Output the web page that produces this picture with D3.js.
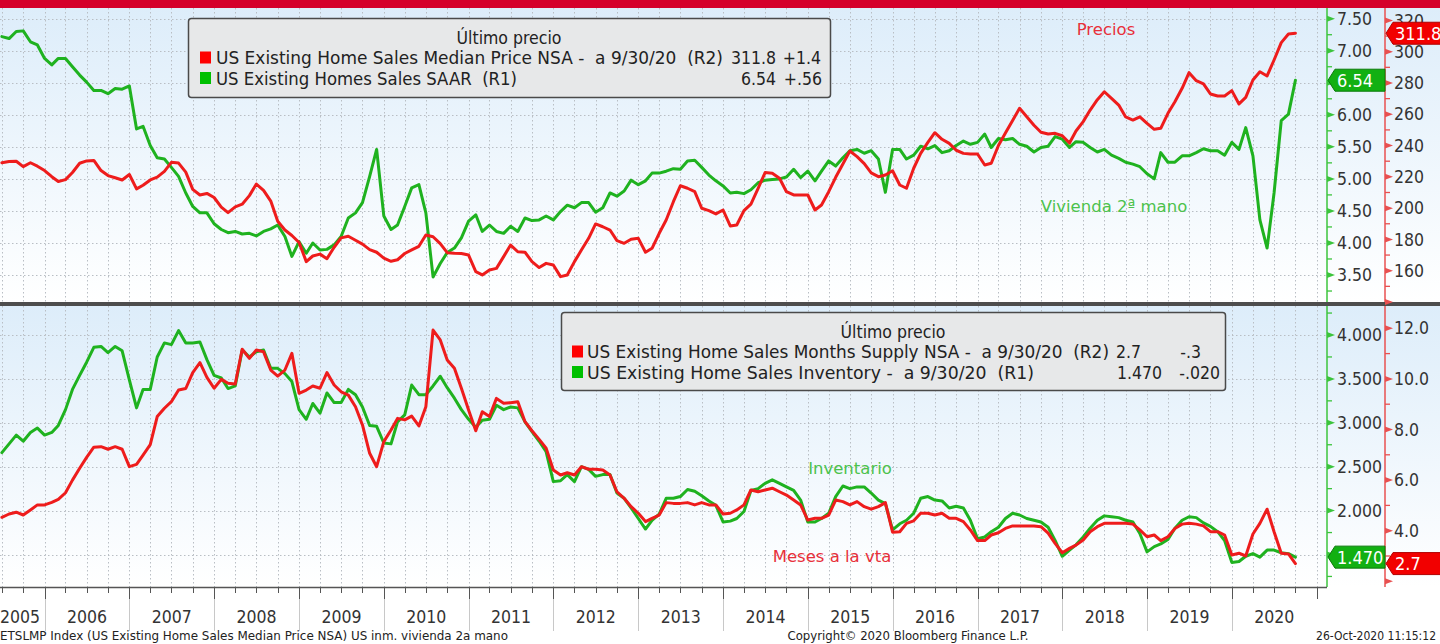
<!DOCTYPE html>
<html><head><meta charset="utf-8">
<script src="https://cdn.jsdelivr.net/npm/d3@7"></script>
<style>
html,body{margin:0;padding:0;background:#fff;overflow:hidden}
svg{display:block}
text{font-family:"DejaVu Sans Condensed","DejaVu Sans",sans-serif;font-stretch:condensed;white-space:pre}
</style></head><body>
<svg id="c" width="1440" height="644"></svg>
<script>
// ---------- DATA (monthly, first value = Jun 2005, last = Sep 2020) ----------
const startMonth = "2005-06";
const salesSAAR = [
7.22,7.19,7.30,7.31,7.14,7.09,6.88,6.78,6.88,6.88,
6.75,6.62,6.51,6.38,6.38,6.33,6.41,6.40,6.45,5.78,
5.82,5.52,5.33,5.31,5.18,5.04,4.78,4.57,4.47,4.47,
4.30,4.21,4.16,4.18,4.14,4.15,4.11,4.18,4.22,4.28,
4.10,3.79,4.02,3.84,4.00,3.89,3.90,3.97,4.10,4.39,
4.47,4.63,5.04,5.46,4.42,4.21,4.28,4.57,4.86,4.91,
4.47,3.47,3.68,3.85,3.92,4.08,4.34,4.44,4.18,4.28,
4.18,4.15,4.26,4.18,4.39,4.35,4.36,4.42,4.36,4.49,
4.59,4.55,4.63,4.63,4.48,4.55,4.78,4.73,4.81,4.98,
4.91,4.97,5.09,5.09,5.12,5.16,5.15,5.28,5.29,5.18,
5.06,4.97,4.89,4.78,4.79,4.77,4.83,4.94,4.98,4.99,
5.00,5.03,5.15,5.02,5.12,4.97,5.12,5.28,5.20,5.33,
5.44,5.46,5.40,5.44,5.31,4.79,5.46,5.46,5.31,5.37,
5.51,5.47,5.52,5.41,5.44,5.52,5.59,5.54,5.57,5.70,
5.49,5.63,5.61,5.63,5.54,5.51,5.42,5.49,5.51,5.66,
5.62,5.49,5.58,5.57,5.49,5.42,5.46,5.37,5.32,5.26,
5.23,5.19,5.08,5.00,5.41,5.26,5.26,5.36,5.36,5.41,
5.47,5.44,5.44,5.37,5.57,5.46,5.80,5.36,4.36,3.92,
4.78,5.91,6.01,6.54];
const medianPrice = [
229.0,229.8,230.0,226.5,229.0,226.8,224.0,220.1,217.0,218.2,
222.8,228.7,230.2,230.5,224.0,220.8,219.4,218.0,221.5,212.3,
214.6,218.0,219.8,223.5,229.3,228.8,223.0,212.0,208.4,209.4,
206.8,200.6,197.1,200.8,202.5,208.0,215.4,211.4,204.5,191.6,
186.0,182.5,178.0,165.8,169.4,170.6,167.7,175.0,181.0,182.0,
179.5,177.0,173.5,171.8,168.0,166.0,167.0,171.0,173.3,175.6,
182.8,181.7,177.3,171.5,171.1,171.0,170.0,159.4,157.3,160.5,
161.5,169.0,176.4,172.1,171.8,165.8,162.0,164.7,163.6,156.2,
157.3,165.8,173.2,180.7,189.9,188.1,186.0,179.2,177.5,180.1,
180.7,171.8,174.3,183.9,192.4,204.1,214.3,212.7,210.5,199.9,
198.4,196.3,198.8,188.6,189.2,198.4,202.6,212.7,222.7,222.3,
219.1,210.5,208.4,208.4,208.4,198.8,202.0,210.5,219.7,228.2,
236.5,232.9,228.5,222.5,220.1,221.2,223.9,214.8,212.7,225.5,
235.0,242.0,248.2,244.0,241.4,237.0,235.0,234.6,234.6,227.6,
228.7,240.0,248.0,256.0,263.8,258.4,253.0,248.5,247.4,247.8,
246.3,241.6,249.3,255.3,262.7,269.3,274.4,270.2,265.9,258.3,
256.3,258.4,254.2,250.4,251.0,260.6,268.0,276.6,286.6,281.5,
279.4,273.0,271.7,271.7,275.1,266.6,270.8,281.9,287.2,284.5,
294.7,305.8,311.3,311.8];
const inventory = [
2.66,2.76,2.86,2.79,2.89,2.94,2.86,2.89,2.97,3.15,
3.38,3.54,3.69,3.86,3.87,3.80,3.87,3.82,3.49,3.17,
3.38,3.38,3.75,3.91,3.89,4.05,3.91,3.91,3.92,3.72,
3.54,3.51,3.39,3.42,3.83,3.75,3.81,3.83,3.62,3.62,
3.56,3.47,3.15,3.04,3.22,3.11,3.34,3.23,3.23,3.38,
3.32,3.18,2.97,2.96,2.77,2.76,3.01,3.09,3.43,3.32,
3.32,3.42,3.53,3.40,3.28,3.15,3.04,2.95,3.03,3.04,
3.20,3.15,3.18,3.17,3.01,2.90,2.79,2.67,2.33,2.34,
2.41,2.33,2.50,2.47,2.39,2.41,2.41,2.20,2.14,2.03,
1.91,1.79,1.89,1.96,2.14,2.14,2.16,2.24,2.22,2.17,
2.11,2.06,1.87,1.88,1.91,1.99,2.23,2.25,2.31,2.35,
2.31,2.27,2.23,2.12,1.87,1.87,1.91,1.97,2.16,2.28,
2.25,2.27,2.27,2.20,2.12,2.08,1.78,1.85,1.89,1.97,
2.14,2.16,2.12,2.11,2.03,2.05,2.03,1.89,1.68,1.70,
1.76,1.81,1.91,1.97,1.95,1.91,1.89,1.87,1.81,1.66,
1.48,1.55,1.61,1.70,1.80,1.89,1.94,1.93,1.92,1.89,
1.87,1.74,1.53,1.59,1.62,1.67,1.80,1.89,1.93,1.92,
1.86,1.82,1.76,1.66,1.41,1.42,1.48,1.51,1.47,1.55,
1.55,1.52,1.51,1.47];
const monthsSupply = [
4.53,4.66,4.73,4.62,4.82,5.02,5.02,5.12,5.24,5.50,
6.00,6.47,6.90,7.30,7.32,7.22,7.32,7.22,6.53,6.62,
6.99,7.40,8.51,8.84,9.10,9.56,9.62,10.25,10.64,10.06,
9.63,9.98,9.83,9.80,11.17,10.81,11.14,11.07,10.35,10.11,
10.35,11.01,9.43,9.56,9.72,9.63,10.25,9.76,9.49,9.36,
8.90,8.18,7.06,6.53,7.52,7.98,8.44,8.38,8.53,8.14,
8.90,11.93,11.54,10.75,10.42,9.63,8.77,7.95,8.70,8.51,
9.23,9.04,9.06,9.10,8.31,7.95,7.61,7.26,6.40,6.20,
6.29,6.20,6.53,6.43,6.43,6.40,6.20,5.54,5.28,4.95,
4.69,4.36,4.49,4.62,5.11,5.08,5.08,5.11,5.02,5.11,
5.02,5.02,4.66,4.69,4.82,5.02,5.61,5.54,5.61,5.68,
5.54,5.41,5.21,5.02,4.42,4.49,4.49,4.62,5.21,5.15,
5.02,5.15,4.95,4.85,4.95,5.11,3.94,3.96,4.29,4.39,
4.69,4.69,4.62,4.69,4.49,4.49,4.36,4.03,3.61,3.61,
3.83,3.92,4.09,4.19,4.19,4.19,4.19,4.16,3.90,3.50,
3.13,3.30,3.43,3.63,3.96,4.16,4.29,4.29,4.29,4.29,
4.26,4.03,3.76,3.83,3.61,3.76,4.09,4.26,4.29,4.26,
4.19,3.96,3.96,3.83,3.04,3.11,3.00,3.87,4.29,4.85,
3.96,3.11,3.08,2.70];
const years = [2005,2006,2007,2008,2009,2010,2011,2012,2013,2014,2015,2016,2017,2018,2019,2020];
const topGreenTicks = [3.5,4.0,4.5,5.0,5.5,6.0,6.5,7.0,7.5];
const topRedTicks = [140,160,180,200,220,240,260,280,300,320];
const botGreenTicks = [1.5,2.0,2.5,3.0,3.5,4.0];
const botRedTicks = [2,4,6,8,10,12];
const lastTop = {price: 311.8, sales: 6.54};
const lastBot = {supply: 2.7, inventory: 1.470};

// ---------- SETUP ----------
const C = {red:"#ee1c1c", green:"#1fb21f", gridc:"#b9bec4", text:"#333"};
const svg = d3.select("#c");
const plotR = 1327, axR = 1385;
const P1 = {y0:8, y1:302}, P2 = {y0:306, y1:587};

const defs = svg.append("defs");
const grad = defs.append("linearGradient").attr("id","bg").attr("x1",0).attr("x2",0).attr("y1",0).attr("y2",1);
grad.append("stop").attr("offset","0%").attr("stop-color","#ddedfa");
grad.append("stop").attr("offset","100%").attr("stop-color","#ffffff");
[["clipTop",P1],["clipBot",P2]].forEach(([id,p])=>{
  defs.append("clipPath").attr("id",id).append("rect").attr("x",0).attr("y",p.y0).attr("width",plotR).attr("height",p.y1-p.y0);
});

svg.append("rect").attr("width",1440).attr("height",644).attr("fill","#fff");
svg.append("rect").attr("x",0).attr("y",P1.y0).attr("width",1440).attr("height",P1.y1-P1.y0).attr("fill","url(#bg)");
svg.append("rect").attr("x",0).attr("y",P2.y0).attr("width",1440).attr("height",P2.y1-P2.y0).attr("fill","url(#bg)");
svg.append("rect").attr("x",0).attr("y",0).attr("width",1440).attr("height",8).attr("fill","#d5002b");

// scales
const x = d3.scaleTime().domain([new Date(2006,0,1), new Date(2020,0,1)]).range([44.6,1231.8]);
const yTG = d3.scaleLinear().domain([3.5,7.5]).range([275,18.7]);
const yTR = d3.scaleLinear().domain([160,300]).range([270.7,51.7]);
const yBG = d3.scaleLinear().domain([1.5,4.0]).range([554.5,335]);
const yBR = d3.scaleLinear().domain([2,12]).range([581.3,328.3]);

const d0 = d3.timeParse("%Y-%m")(startMonth);
const dateAt = i => d3.timeMonth.offset(d0, i+1); // end of month
const series = arr => arr.map((v,i)=>({d:dateAt(i), v}));

// grid
const quarters = d3.timeMonth.every(3).range(x.invert(0), x.invert(plotR));
function grid(p, ys){
  const g = svg.append("g").attr("stroke",C.gridc).attr("stroke-width",1).attr("stroke-dasharray","1.5,2.5").attr("fill","none");
  g.selectAll("line.v").data(quarters).join("line").attr("class","v")
    .attr("x1",d=>Math.round(x(d))+0.5).attr("x2",d=>Math.round(x(d))+0.5).attr("y1",p.y0).attr("y2",p.y1);
  g.selectAll("line.h").data(ys).join("line").attr("class","h")
    .attr("x1",0).attr("x2",plotR).attr("y1",d=>Math.round(d)+0.5).attr("y2",d=>Math.round(d)+0.5);
}
grid(P1, topGreenTicks.map(yTG).filter(y=>y>P1.y0+2));
grid(P2, botGreenTicks.map(yBG));

// lines
function drawLine(data, y, color, clip){
  const line = d3.line().x(d=>x(d.d)).y(d=>y(d.v)).curve(d3.curveLinear);
  svg.append("path").datum(data).attr("clip-path",`url(#${clip})`).attr("d",line)
    .attr("fill","none").attr("stroke",color).attr("stroke-width",3).attr("stroke-linejoin","round").attr("stroke-linecap","round");
}
drawLine(series(salesSAAR), yTG, C.green, "clipTop");
drawLine(series(medianPrice), yTR, C.red, "clipTop");
drawLine(series(inventory), yBG, C.green, "clipBot");
drawLine(series(monthsSupply), yBR, C.red, "clipBot");

// separator
svg.append("rect").attr("x",0).attr("y",302).attr("width",1440).attr("height",4).attr("fill","#4d4d4d");

// right axes
function rightAxis(xPos, p, scale, ticks, minorStep, fmt, color, pad){
  const dom = [scale.invert(p.y1), scale.invert(p.y0)];
  svg.append("line").attr("x1",xPos).attr("x2",xPos).attr("y1",p.y0).attr("y2",p.y1).attr("stroke",color).attr("stroke-width",1.5);
  const minors = d3.range(Math.ceil(dom[0]/minorStep)*minorStep, dom[1], minorStep)
    .filter(v=>!ticks.some(t=>Math.abs(t-v)<1e-6));
  svg.append("g").selectAll("line").data(minors).join("line")
    .attr("x1",xPos).attr("x2",xPos+5).attr("y1",d=>scale(d)).attr("y2",d=>scale(d))
    .attr("stroke",color).attr("stroke-width",1.3);
  const inR = ticks.filter(t=>scale(t)>=p.y0-1 && scale(t)<=p.y1+1);
  svg.append("g").selectAll("path").data(inR).join("path")
    .attr("d",d=>`M${xPos},${scale(d)-3} L${xPos+8},${scale(d)} L${xPos},${scale(d)+3} Z`).attr("fill",color);
  const ax = d3.axisRight(scale).tickValues(inR.filter(t=>scale(t)>p.y0+6 && scale(t)<p.y1-8)).tickFormat(fmt).tickSize(0).tickPadding(pad);
  const g = svg.append("g").attr("transform",`translate(${xPos},0)`).call(ax);
  g.select(".domain").remove();
  g.selectAll("text").attr("fill",C.text).style("font-size","17.5px").style("font-family",null);
}
rightAxis(plotR, P1, yTG, topGreenTicks, 0.25, d3.format(".2f"), "#3cc43c", 10);
rightAxis(axR, P1, yTR, topRedTicks, 10, d3.format("d"), "#e85050", 9);
rightAxis(plotR, P2, yBG, botGreenTicks, 0.25, d3.format(".3f"), "#3cc43c", 10);
rightAxis(axR, P2, yBR, botRedTicks, 1, d3.format(".1f"), "#e85050", 9);

// value tags (drawn over the axis labels, as in the original)
function tag(x0, x1, yc, fill, stroke, label){
  const h = 11;
  svg.append("path").attr("d",`M${x0},${yc} L${x0+7},${yc-h} L${x1},${yc-h} L${x1},${yc+h} L${x0+7},${yc+h} Z`)
    .attr("fill",fill).attr("stroke",stroke).attr("stroke-width",1);
  svg.append("text").attr("x",x0+9).attr("y",yc).attr("dy","0.36em").attr("fill","#fff").style("font-size","18px").text(label);
}
tag(plotR+1, axR, yTG(lastTop.sales), "#12b012", "#0a7a0a", d3.format(".2f")(lastTop.sales));
tag(axR+1, 1441, yTR(lastTop.price), "#f20000", "#b00000", d3.format(".1f")(lastTop.price));
tag(plotR+1, axR, yBG(lastBot.inventory), "#12b012", "#0a7a0a", d3.format(".3f")(lastBot.inventory));
tag(axR+1, 1441, yBR(lastBot.supply), "#f20000", "#b00000", d3.format(".1f")(lastBot.supply));

// bottom x axis
svg.append("line").attr("x1",0).attr("x2",plotR).attr("y1",587.5).attr("y2",587.5).attr("stroke","#555").attr("stroke-width",1.5);
svg.append("g").selectAll("line").data(quarters).join("line")
  .attr("x1",d=>Math.round(x(d))+0.5).attr("x2",d=>Math.round(x(d))+0.5)
  .attr("y1",588).attr("y2",d=>d.getMonth()===0?599:593).attr("stroke","#555").attr("stroke-width",1);
const yearStarts = years.slice(1).map(y=>new Date(y,0,1));
svg.append("g").selectAll("line").data(yearStarts).join("line")
  .attr("x1",d=>Math.round(x(d))+0.5).attr("x2",d=>Math.round(x(d))+0.5)
  .attr("y1",599).attr("y2",631).attr("stroke","#c8c8c8").attr("stroke-width",1);
svg.append("g").selectAll("text").data(years).join("text")
  .each(function(y){
    const a = x(new Date(y,0,1)), b = Math.min(plotR, x(new Date(y+1,0,1)));
    const t = d3.select(this).attr("y",623).attr("fill",C.text).style("font-size","17.5px").text(y);
    if (a < 0) t.attr("x",0).attr("text-anchor","start");
    else t.attr("x",(a+b)/2).attr("text-anchor","middle");
  });

// legends
function legend(bx, by, bw, bh, rows){
  svg.append("rect").attr("x",bx+0.5).attr("y",by+0.5).attr("width",bw).attr("height",bh).attr("rx",3)
    .attr("fill","#e7e8e9").attr("stroke","#4a4a4a").attr("stroke-width",1.5);
  svg.append("text").attr("x",bx+bw/2).attr("y",by+26).attr("text-anchor","middle").attr("fill","#222").style("font-size","17.5px").text("Último precio");
  rows.forEach((r,i)=>{
    const yb = by+46+i*20.5;
    svg.append("rect").attr("x",r.sx).attr("y",yb-12.5).attr("width",11).attr("height",12).attr("fill",r.color);
    svg.append("text").attr("x",r.tx).attr("y",yb).attr("fill","#222").style("font-size","17.5px")
      .attr("textLength",r.tl).attr("lengthAdjust","spacingAndGlyphs").text(r.name);
    r.vals.forEach(v=>{
      svg.append("text").attr("x",v.x).attr("y",yb).attr("text-anchor",v.a).attr("fill","#222").style("font-size","17.5px").text(v.t);
    });
  });
}
legend(188, 18, 642, 79, [
  {color:"#ff0000", sx:200, tx:216, tl:507, name:"US Existing Home Sales Median Price NSA -  a 9/30/20  (R2)",
   vals:[{x:776,a:"end",t:"311.8"},{x:821,a:"end",t:"+1.4"}]},
  {color:"#00c000", sx:200, tx:216, tl:301, name:"US Existing Homes Sales SAAR  (R1)",
   vals:[{x:776,a:"end",t:"6.54"},{x:822,a:"end",t:"+.56"}]}
]);
legend(561, 312, 664, 78, [
  {color:"#ff0000", sx:572, tx:587, tl:522, name:"US Existing Home Sales Months Supply NSA -  a 9/30/20  (R2)",
   vals:[{x:1116,a:"start",t:"2.7"},{x:1201,a:"end",t:"-.3"}]},
  {color:"#00c000", sx:572, tx:587, tl:447, name:"US Existing Home Sales Inventory -  a 9/30/20  (R1)",
   vals:[{x:1162,a:"end",t:"1.470"},{x:1220,a:"end",t:"-.020"}]}
]);

// annotations
const ann = [
  {t:"Precios", x:1106, y:29, c:"#e8303a"},
  {t:"Vivienda 2ª mano", x:1114, y:206, c:"#4cc24c"},
  {t:"Inventario", x:850, y:468, c:"#4cc24c"},
  {t:"Meses a la vta", x:832, y:556, c:"#e8303a"}
];
svg.append("g").selectAll("text").data(ann).join("text")
  .attr("x",d=>d.x).attr("y",d=>d.y).attr("dy","0.36em").attr("text-anchor","middle")
  .attr("fill",d=>d.c).style("font-family","'DejaVu Sans',sans-serif").style("font-stretch","normal").style("font-size","16.5px").text(d=>d.t);

// footer
const foot = [
  {t:"ETSLMP Index (US Existing Home Sales Median Price NSA) US inm. vivienda 2a mano", x:0, a:"start", tl:508},
  {t:"Copyright© 2020 Bloomberg Finance L.P.", x:908, a:"middle", tl:241},
  {t:"26-Oct-2020 11:15:12", x:1436, a:"end", tl:null}
];
svg.append("g").selectAll("text").data(foot).join("text")
  .each(function(d){
    const t = d3.select(this).attr("y",640).attr("fill","#222").style("font-size","12px").text(d.t);
    if (d.tl) {
      t.attr("x", d.a==="start"?d.x:d.x-d.tl/2).attr("textLength",d.tl).attr("lengthAdjust","spacingAndGlyphs");
    } else {
      t.attr("x", d.x).attr("text-anchor","end");
    }
  });
</script>
</body></html>
